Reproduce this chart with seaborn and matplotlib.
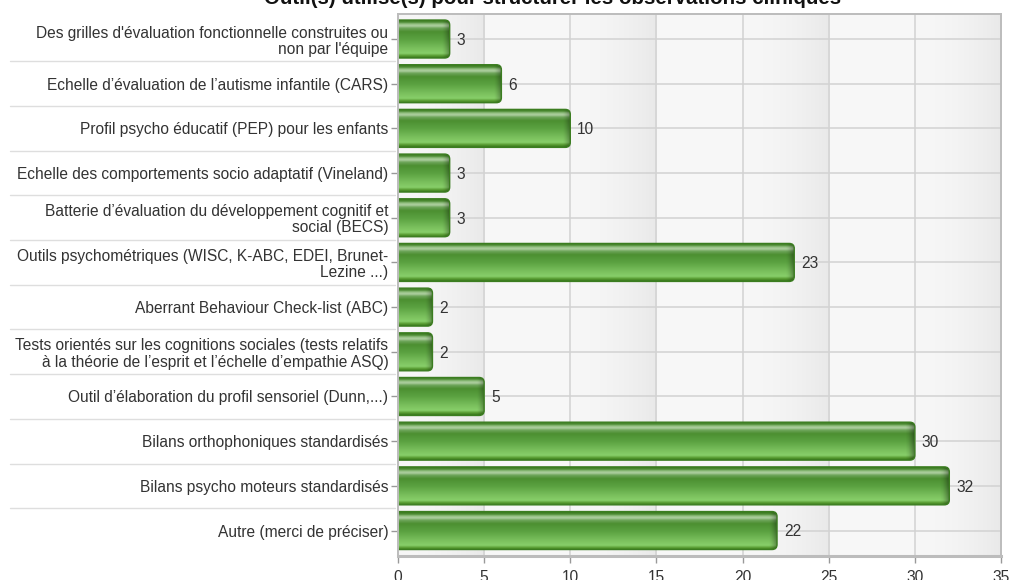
import numpy as np
import pandas as pd
import matplotlib
matplotlib.use("Agg")
import matplotlib.pyplot as plt
import seaborn as sns
from matplotlib.patches import FancyBboxPatch
from matplotlib.colors import to_rgb
import matplotlib.transforms as mtransforms

# --- data -------------------------------------------------------------
tools = [
    "Des grilles d'évaluation fonctionnelle construites ou\nnon par l'équipe",
    "Echelle d’évaluation de l’autisme infantile (CARS)",
    "Profil psycho éducatif (PEP) pour les enfants",
    "Echelle des comportements socio adaptatif (Vineland)",
    "Batterie d’évaluation du développement cognitif et\nsocial (BECS)",
    "Outils psychométriques (WISC, K-ABC, EDEI, Brunet-\nLezine ...)",
    "Aberrant Behaviour Check-list (ABC)",
    "Tests orientés sur les cognitions sociales (tests relatifs\nà la théorie de l’esprit et l’échelle d’empathie ASQ)",
    "Outil d’élaboration du profil sensoriel (Dunn,...)",
    "Bilans orthophoniques standardisés",
    "Bilans psycho moteurs standardisés",
    "Autre (merci de préciser)",
]
counts = [3, 6, 10, 3, 3, 23, 2, 2, 5, 30, 32, 22]
x_ticks = [0, 5, 10, 15, 20, 25, 30, 35]
title = "Outil(s) utilisé(s) pour structurer les observations cliniques"

df = pd.DataFrame({"outil": tools, "n": counts})

# --- style ------------------------------------------------------------
sns.set_theme(style="white")
plt.rcParams["font.family"] = ["Liberation Sans", "DejaVu Sans"]
TXT = "#333333"
GRID = "#d2d2d2"
FRAME = "#bcbcbc"
FS = 11.2

fig = plt.figure(figsize=(10.09, 5.80), dpi=100)
ax = fig.add_axes([398 / 1009, 1 - 556 / 580, 603 / 1009, 542 / 580])
ax.set_facecolor("#f7f7f7")

sns.barplot(data=df, x="n", y="outil", orient="h", color="#5fa640",
            width=0.85, ax=ax, zorder=3)

XMAX = x_ticks[-1]
YLIM = (len(tools) - 1 + 0.57, -0.56)
ax.set_xlim(0, XMAX)
ax.set_ylim(*YLIM)

# background: alternating shaded columns between the x gridlines
for i in range(len(x_ticks) - 1):
    if i % 2 == 0:
        ramp = np.linspace(0, 1, 64) ** 1.8
        c0, c1 = np.array(to_rgb("#f7f7f7")), np.array(to_rgb("#e9e9e9"))
        img = (c0[None, :] * (1 - ramp[:, None]) + c1[None, :] * ramp[:, None])[None, :, :]
        ax.imshow(img, extent=(x_ticks[i], x_ticks[i + 1], YLIM[0], YLIM[1]),
                  aspect="auto", zorder=0, interpolation="bilinear")

# grid
for xv in x_ticks[1:-1]:
    ax.axvline(xv, color=GRID, lw=1.1, zorder=1)
for yv in range(len(tools)):
    ax.axhline(yv, color=GRID, lw=1.1, zorder=1)

# glossy green gradient for each bar
stops = [
    (0.00, "#3a7a1e"), (0.05, "#4f8d36"), (0.10, "#94c082"), (0.15, "#b0d0a2"),
    (0.21, "#6ea55a"), (0.30, "#4c8f31"), (0.50, "#5aa140"), (0.75, "#7ac05d"),
    (0.88, "#88cf6a"), (0.95, "#55982f"), (1.00, "#3a7a1e"),
]
pos = np.array([s[0] for s in stops])
cols = np.array([to_rgb(s[1]) for s in stops])
ny = 80
t = np.linspace(0, 1, ny)
vert = np.stack([np.interp(t, pos, cols[:, k]) for k in range(3)], axis=1)

px_per_x = 603 / XMAX
px_per_y = 542 / (YLIM[0] - YLIM[1])
round_x = 5 / px_per_x
aspect = (1 / px_per_y) / (1 / px_per_x)

for patch in list(ax.patches):
    x0, y0 = patch.get_x(), patch.get_y()
    w, h = patch.get_width(), patch.get_height()
    patch.set_visible(False)
    x1 = x0 + w
    xl = x0 - 0.6
    box = FancyBboxPatch((xl, y0), x1 - xl, h,
                         boxstyle=f"round,pad=0,rounding_size={round_x}",
                         mutation_aspect=aspect, facecolor="none",
                         edgecolor="#3b7d20", lw=1.0, zorder=5)
    ax.add_patch(box)
    nx = 200
    xs = np.linspace(xl, x1, nx)
    shade = np.clip((xs - (x1 - 8 / px_per_x)) / (8 / px_per_x), 0, 1) ** 1.5
    img = vert[:, None, :] * (1 - 0.35 * shade[None, :, None])
    im = ax.imshow(img, extent=(xl, x1, y0 + h, y0), aspect="auto",
                   zorder=4, interpolation="bilinear")
    im.set_clip_path(box)
    ax.text(x1 + 7 / px_per_x, y0 + h / 2 + 0.03, f"{int(round(w))}", va="center",
            ha="left", fontsize=FS, color=TXT, zorder=6)

ax.set_xlim(0, XMAX)
ax.set_ylim(*YLIM)

# axes, ticks
ax.set_xlabel("")
ax.set_ylabel("")
ax.set_xticks(x_ticks)
ax.set_xticklabels([str(v) for v in x_ticks])
ax.tick_params(axis="x", bottom=True, length=5, width=1, color="#999999",
               labelsize=FS, labelcolor=TXT, pad=5)
ax.tick_params(axis="y", left=True, length=5, width=1, color="#999999",
               labelsize=FS, labelcolor=TXT, pad=2)
for lab in ax.get_yticklabels():
    lab.set_multialignment("right")
    lab.set_linespacing(1.1)
for side, sp in ax.spines.items():
    sp.set_visible(True)
    sp.set_color(FRAME)
    sp.set_linewidth(1.4)
    sp.set_zorder(7)
ax.spines["bottom"].set_linewidth(2.2)

# faint separators between the category labels
trans = mtransforms.blended_transform_factory(ax.transAxes, ax.transData)
for k in range(len(tools) - 1):
    ax.plot([-(398 - 10) / 603, -3 / 603], [k + 0.5, k + 0.5], transform=trans,
            color="#dedede", lw=1.0, clip_on=False, zorder=1)

fig.text(553 / 1009, 1 - 4 / 580, title, ha="center", va="baseline",
         fontsize=14.8, fontweight="bold", color="#111111")

fig.savefig("out.png", dpi=100)
